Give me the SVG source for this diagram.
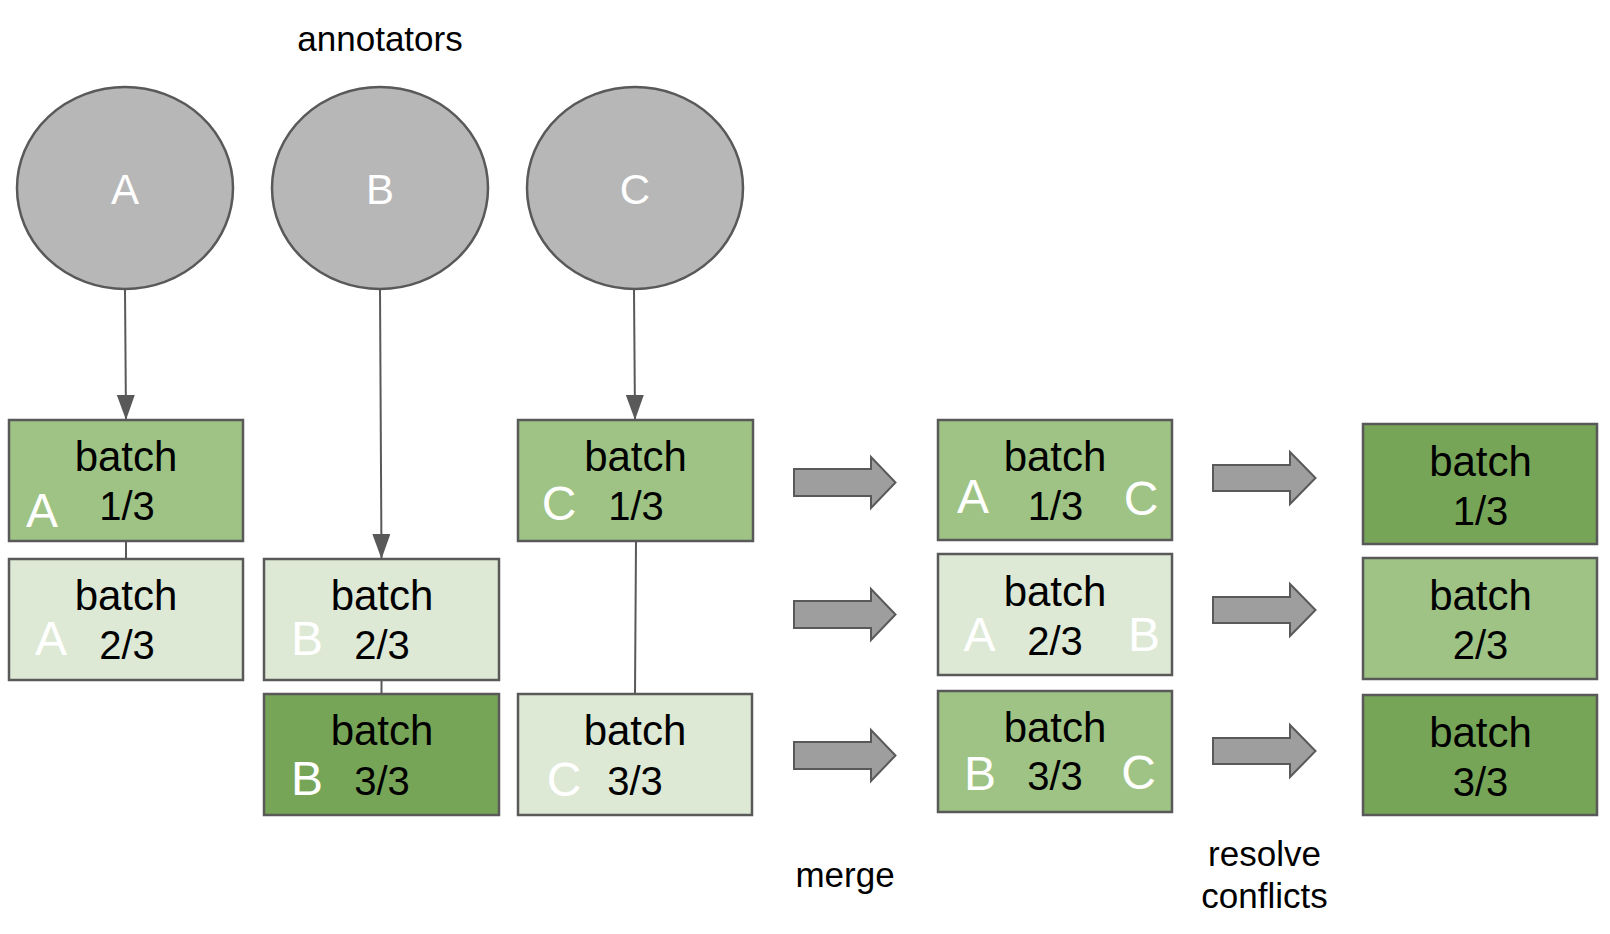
<svg xmlns="http://www.w3.org/2000/svg" width="1610" height="934" viewBox="0 0 1610 934">
<style>
text{font-family:"Liberation Sans",Arial,sans-serif}
.lbl{font-size:35px;fill:#000;text-anchor:middle}
.b{font-size:40px;fill:#000;text-anchor:middle}
.bt{font-size:42px}
.w{font-size:48px;fill:#fff;text-anchor:middle}
.cl{font-size:42px;fill:#fff;text-anchor:middle}
.ell{fill:#b7b7b7;stroke:#595959;stroke-width:2.5}
.box{stroke:#595959;stroke-width:2.5}
.m{fill:#9ec384}
.l{fill:#dde9d5}
.d{fill:#77a557}
.con{stroke:#595959;stroke-width:2;fill:none}
.blk{fill:#9e9e9e;stroke:#595959;stroke-width:2}
</style>
<defs>
<marker id="arr" viewBox="0 0 25 18" refX="25" refY="9" markerWidth="25" markerHeight="18" markerUnits="userSpaceOnUse" orient="auto">
<path d="M0,0 L25,9 L0,18 Z" fill="#595959"/>
</marker>
</defs>
<rect width="1610" height="934" fill="#fff"/>
<text class="lbl" x="380" y="51">annotators</text>
<g id="connectors">
<line class="con" x1="125" y1="290" x2="126" y2="420" marker-end="url(#arr)"/>
<line class="con" x1="380" y1="290" x2="381.5" y2="559" marker-end="url(#arr)"/>
<line class="con" x1="634" y1="290" x2="635" y2="420" marker-end="url(#arr)"/>
<line class="con" x1="126" y1="541" x2="126" y2="559"/>
<line class="con" x1="381.5" y1="680" x2="381.5" y2="694"/>
<line class="con" x1="636" y1="541" x2="635" y2="694"/>
</g>
<g id="annotator-A"><ellipse class="ell" cx="125" cy="188" rx="108" ry="101"/><text class="cl" x="125" y="204">A</text></g>
<g id="annotator-B"><ellipse class="ell" cx="380" cy="188" rx="108" ry="101"/><text class="cl" x="380" y="204">B</text></g>
<g id="annotator-C"><ellipse class="ell" cx="635" cy="188" rx="108" ry="101"/><text class="cl" x="635" y="204">C</text></g>

<g id="A1"><rect class="box m" x="9" y="420" width="234" height="121"/><text class="b bt" x="126" y="471">batch</text><text class="b" x="127" y="520">1/3</text><text class="w" x="42" y="527">A</text></g>
<g id="A2"><rect class="box l" x="9" y="559" width="234" height="121"/><text class="b bt" x="126" y="610">batch</text><text class="b" x="127" y="659">2/3</text><text class="w" x="51" y="655">A</text></g>
<g id="B2"><rect class="box l" x="264" y="559" width="235" height="121"/><text class="b bt" x="382" y="610">batch</text><text class="b" x="382" y="659">2/3</text><text class="w" x="307" y="655">B</text></g>
<g id="B3"><rect class="box d" x="264" y="694" width="235" height="121"/><text class="b bt" x="382" y="745">batch</text><text class="b" x="382" y="795">3/3</text><text class="w" x="307" y="795">B</text></g>
<g id="C1"><rect class="box m" x="518" y="420" width="235" height="121"/><text class="b bt" x="635.5" y="471">batch</text><text class="b" x="636" y="520">1/3</text><text class="w" x="559" y="520">C</text></g>
<g id="C3"><rect class="box l" x="518" y="694" width="234" height="121"/><text class="b bt" x="635" y="745">batch</text><text class="b" x="635" y="795">3/3</text><text class="w" x="564" y="796">C</text></g>

<g id="merge-arrows">
<path class="blk" d="M794,469 H871 V457 L895.5,482.5 L871,508 V496 H794 Z"/>
<path class="blk" d="M794,601 H871 V589 L895.5,614.5 L871,640 V628 H794 Z"/>
<path class="blk" d="M794,742 H871 V730 L895.5,755.5 L871,781 V769 H794 Z"/>
</g>
<text class="lbl" x="845" y="887">merge</text>

<g id="M1"><rect class="box m" x="938" y="420" width="234" height="120"/><text class="b bt" x="1055" y="471">batch</text><text class="b" x="1055.5" y="520">1/3</text><text class="w" x="973" y="513">A</text><text class="w" x="1141" y="515">C</text></g>
<g id="M2"><rect class="box l" x="938" y="554" width="234" height="121"/><text class="b bt" x="1055" y="606">batch</text><text class="b" x="1055" y="655">2/3</text><text class="w" x="979.5" y="651">A</text><text class="w" x="1144" y="651">B</text></g>
<g id="M3"><rect class="box m" x="938" y="691" width="234" height="121"/><text class="b bt" x="1055" y="742">batch</text><text class="b" x="1055" y="790">3/3</text><text class="w" x="980" y="790">B</text><text class="w" x="1138.5" y="789">C</text></g>

<g id="resolve-arrows">
<path class="blk" d="M1213,465 H1290 V452 L1315.5,478 L1290,504 V491 H1213 Z"/>
<path class="blk" d="M1213,597 H1290 V584 L1315.5,610 L1290,636 V623 H1213 Z"/>
<path class="blk" d="M1213,738 H1290 V725 L1315.5,751 L1290,777 V764 H1213 Z"/>
</g>
<text class="lbl" x="1264.5" y="866">resolve</text>
<text class="lbl" x="1264.5" y="908">conflicts</text>

<g id="R1"><rect class="box d" x="1363" y="424" width="234" height="120"/><text class="b bt" x="1480.5" y="476">batch</text><text class="b" x="1480.5" y="525">1/3</text></g>
<g id="R2"><rect class="box m" x="1363" y="558" width="234" height="121"/><text class="b bt" x="1480.5" y="610">batch</text><text class="b" x="1480.5" y="659">2/3</text></g>
<g id="R3"><rect class="box d" x="1363" y="695" width="234" height="120"/><text class="b bt" x="1480.5" y="747">batch</text><text class="b" x="1480.5" y="796">3/3</text></g>
</svg>
